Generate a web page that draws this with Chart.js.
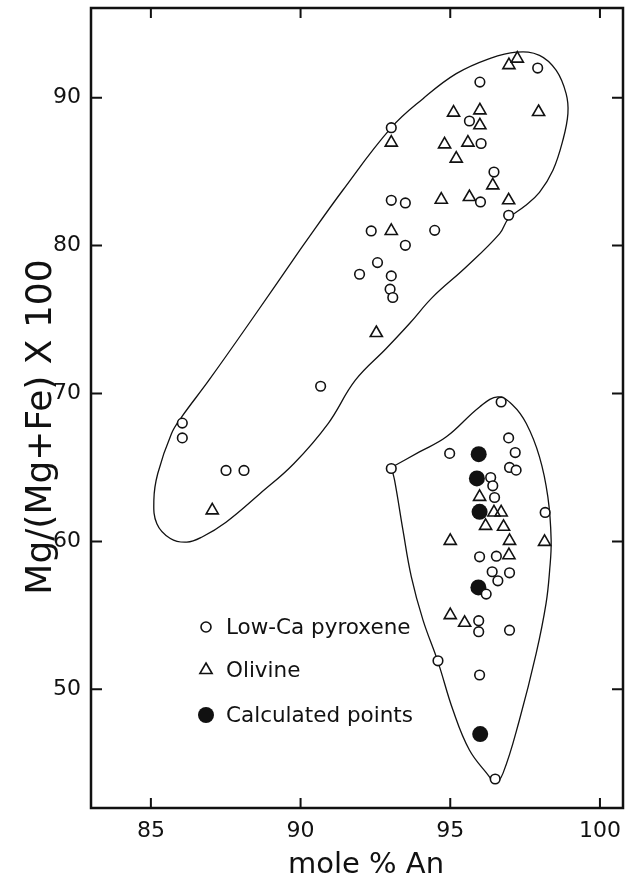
<!DOCTYPE html>
<html>
<head>
<meta charset="utf-8">
<script src="https://cdn.jsdelivr.net/npm/chart.js@4/dist/chart.umd.min.js"></script>
<style>
html,body{margin:0;padding:0;background:#fff}
#wrap{width:625px;height:881px}
</style>
</head>
<body>
<div id="wrap"><canvas id="chart" width="625" height="881"></canvas></div>
<script>
// tick labels
const xTicks=[85,90,95,100];
const yTicks=[50,60,70,80,90];

// Low-Ca pyroxene (open circles)
const pyxX=[97.92,95.99,95.64,93.03,96.03,96.46,93.03,93.5,96.01,96.95,92.36,94.48,93.5,92.57,91.97,93.03,92.99,93.08,90.67,86.05,86.05,87.51,88.11,
 96.7,96.95,97.17,94.98,96.98,97.2,93.03,96.35,96.42,96.48,98.17,95.98,96.54,96.4,96.98,96.59,96.2,95.95,95.95,96.98,94.59,95.98,96.5];
const pyxY=[92.0,91.05,88.42,87.97,86.9,84.97,83.06,82.88,82.95,82.05,80.99,81.03,80.02,78.85,78.06,77.95,77.05,76.49,70.49,68.0,67.0,64.8,64.8,
 69.43,67.0,66.01,65.95,65.0,64.82,64.93,64.32,63.76,62.97,61.96,58.96,59.0,57.95,57.88,57.34,56.44,54.64,53.9,54.0,51.93,50.97,43.94];

// Olivine (open triangles)
const olX=[97.24,96.96,95.11,95.99,95.99,97.95,93.03,94.81,95.59,95.2,96.42,94.7,95.64,96.95,93.03,92.53,87.05,
 95.98,96.46,96.7,96.18,96.78,95.0,96.98,98.15,96.96,95.0,95.48];
const olY=[92.64,92.2,88.99,89.14,88.13,89.03,86.96,86.84,86.96,85.88,84.07,83.1,83.28,83.06,80.99,74.09,62.1,
 63.01,61.96,61.96,61.05,60.99,60.04,60.04,59.97,59.07,55.02,54.5];

// Calculated points (filled circles)
const calcX=[95.95,95.89,95.98,95.94,96.0];
const calcY=[65.9,64.26,62.0,56.89,46.98];

// field outlines
const upX=[89.97,91.41,93.03,94.09,95.2,96.31,97.2,97.98,98.54,98.87,98.93,98.76,98.43,97.98,97.48,96.95,96.65,95.53,94.42,93.64,92.86,91.83,90.92,89.78,88.65,87.51,86.71,86.2,85.65,85.2,85.1,85.23,85.69,86.03,86.94,88.47,89.97];
const upY=[79.68,83.74,87.97,89.93,91.62,92.64,93.08,92.86,91.84,90.27,88.92,87.11,85.09,83.6,82.66,81.84,80.81,78.55,76.53,74.73,73.04,70.9,67.97,65.27,63.24,61.3,60.3,59.95,60.2,61.2,62.8,64.59,67.3,68.42,70.9,75.29,79.68];
const lowX=[93.03,93.97,94.87,95.98,96.59,97.09,97.54,97.98,98.26,98.37,98.32,98.2,97.87,97.31,96.76,96.48,96.31,95.64,95.09,94.59,94.09,93.7,93.42,93.14,93.03];
const lowY=[65.0,66.05,67.07,69.09,69.77,69.21,67.97,65.72,63.01,60.09,58.06,55.81,52.43,47.93,44.32,43.65,44.09,45.9,48.6,51.86,54.68,57.61,60.76,64.14,65.0];

const legendNames=["Low-Ca pyroxene","Olivine","Calculated points"];

const pts=(xs,ys)=>xs.map((v,i)=>({x:v,y:ys[i]}));
const ink="#111";

const frame={
 id:"frame",
 afterDraw(c){
  const {ctx,chartArea:a,scales:{x,y}}=c;
  ctx.save();
  ctx.strokeStyle=ink;ctx.fillStyle=ink;
  ctx.lineWidth=2.5;
  ctx.strokeRect(a.left,a.top,a.right-a.left,a.bottom-a.top);
  ctx.lineWidth=2;
  ctx.beginPath();
  xTicks.forEach(v=>{const p=x.getPixelForValue(v);ctx.moveTo(p,a.bottom);ctx.lineTo(p,a.bottom-10);ctx.moveTo(p,a.top);ctx.lineTo(p,a.top+10);});
  yTicks.forEach(v=>{const p=y.getPixelForValue(v);ctx.moveTo(a.left,p);ctx.lineTo(a.left+11,p);ctx.moveTo(a.right,p);ctx.lineTo(a.right-11,p);});
  ctx.stroke();
  // axis titles
  ctx.textAlign="center";ctx.textBaseline="alphabetic";
  ctx.font="29px 'DejaVu Sans'";
  ctx.fillText("mole % An",366,873);
  ctx.save();
  ctx.translate(51,427);ctx.rotate(-Math.PI/2);
  ctx.font="36px 'DejaVu Sans'";
  ctx.fillText("Mg/(Mg+Fe) X 100",0,0);
  ctx.restore();
  // legend
  const lx=206,ly=[627,670,715];
  ctx.lineWidth=1.6;
  ctx.beginPath();ctx.arc(lx,ly[0],5,0,Math.PI*2);ctx.fillStyle="#fff";ctx.fill();ctx.stroke();
  ctx.beginPath();ctx.moveTo(lx,ly[1]-7);ctx.lineTo(lx+6.1,ly[1]+3.5);ctx.lineTo(lx-6.1,ly[1]+3.5);ctx.closePath();ctx.stroke();
  ctx.fillStyle=ink;
  ctx.beginPath();ctx.arc(lx,ly[2],8,0,Math.PI*2);ctx.fill();
  ctx.textAlign="left";ctx.textBaseline="middle";
  ctx.font="21.5px 'DejaVu Sans'";
  legendNames.forEach((n,i)=>ctx.fillText(n,226,ly[i]+1));
  ctx.restore();
 }
};

function noPad(s){s.paddingLeft=0;s.paddingRight=0;s.paddingTop=0;s.paddingBottom=0;}
const tickFont={family:"DejaVu Sans",size:22};
new Chart(document.getElementById("chart"),{
 type:"scatter",
 data:{datasets:[
  {label:"outline1",data:pts(upX,upY),showLine:true,tension:0.4,borderColor:ink,borderWidth:1.3,pointRadius:0,fill:false,order:5},
  {label:"outline2",data:pts(lowX,lowY),showLine:true,tension:0.4,borderColor:ink,borderWidth:1.3,pointRadius:0,fill:false,order:4},
  {label:legendNames[2],data:pts(calcX,calcY),pointStyle:"circle",pointRadius:8,backgroundColor:ink,borderColor:ink,borderWidth:0,order:3},
  {label:legendNames[1],data:pts(olX,olY),pointStyle:"triangle",pointRadius:7,backgroundColor:"rgba(255,255,255,0)",borderColor:ink,borderWidth:1.6,order:2},
  {label:legendNames[0],data:pts(pyxX,pyxY),pointStyle:"circle",pointRadius:4.8,backgroundColor:"#fff",borderColor:ink,borderWidth:1.6,order:1}
 ]},
 options:{
  responsive:false,animation:false,devicePixelRatio:1,
  layout:{autoPadding:false,padding:{left:0,right:2,top:8,bottom:0}},
  plugins:{legend:{display:false},tooltip:{enabled:false}},
  scales:{
   x:{type:"linear",min:83.0,max:100.77,
    afterFit(s){s.height=73;noPad(s);},
    afterBuildTicks(s){s.ticks=xTicks.map(v=>({value:v}));},
    grid:{display:false,drawTicks:false},border:{display:false},
    ticks:{font:tickFont,color:ink,padding:10,maxRotation:0,autoSkip:false}},
   y:{type:"linear",min:41.98,max:96.06,
    afterFit(s){s.width=91;noPad(s);},
    afterBuildTicks(s){s.ticks=yTicks.map(v=>({value:v}));},
    grid:{display:false,drawTicks:false},border:{display:false},
    ticks:{font:tickFont,color:ink,padding:10,autoSkip:false}}
  }
 },
 plugins:[frame]
});
</script>
</body>
</html>
